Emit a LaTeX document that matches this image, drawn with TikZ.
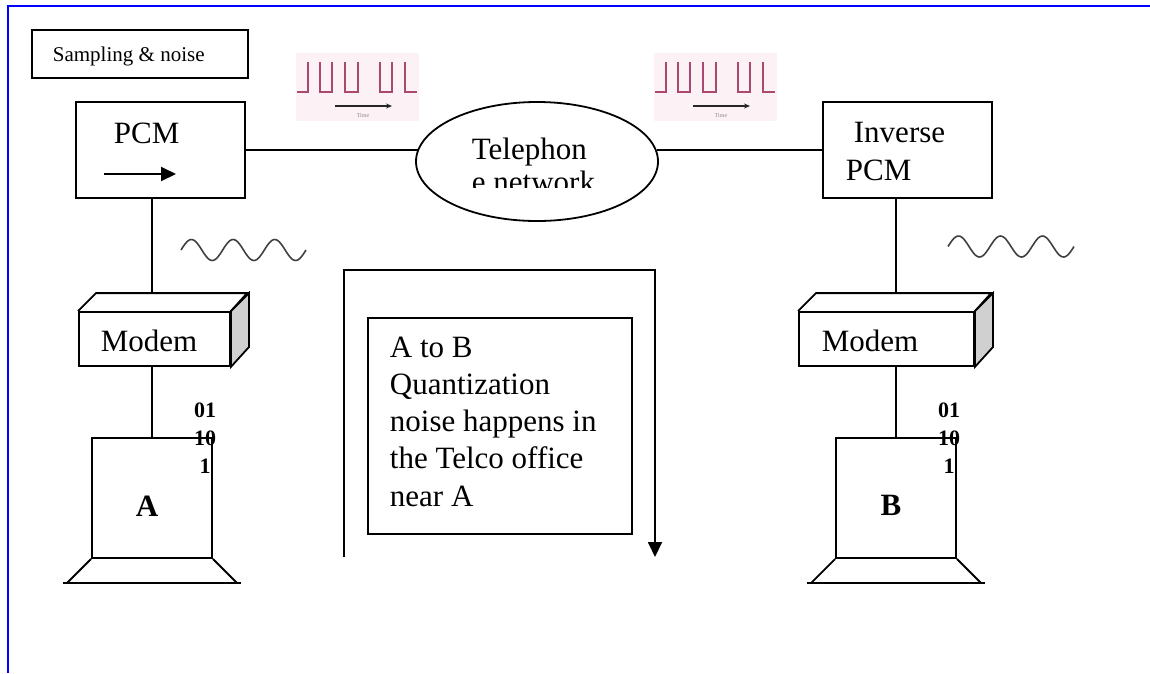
\documentclass[tikz,border=0pt]{standalone}
\usepackage{fontspec}
\setmainfont{Liberation Serif}
\usetikzlibrary{arrows.meta,shapes.geometric}

\definecolor{pulse}{RGB}{170,72,112}
\definecolor{pulsebg}{RGB}{252,241,245}
\definecolor{side}{RGB}{208,208,208}
\definecolor{frame}{RGB}{0,0,255}

\newcommand{\bigtxt}{\fontsize{31}{37.25}\selectfont}
\newcommand{\bitfont}{\fontsize{22}{28}\selectfont\bfseries}

% square pulses with a small time arrow
\newcommand{\pulsetrain}{%
\fill[pulsebg](296,53)rectangle(419,121);
\draw[pulse,line width=1.4pt](297,92)--(308,92)--(308,62)
 (320,62)--(320,92)--(332,92)--(332,62)
 (345,62)--(345,92)--(358,92)--(358,62)
 (380,62)--(380,92)--(392,92)--(392,62)
 (405,62)--(405,92)--(417,92);
\draw[-{Stealth[length=6pt,width=5pt]},line width=1.4pt,black!85](335,106)--(392,106);
\node[font=\fontsize{6}{7}\selectfont,text=black!45] at (363,116){Time};}

\begin{document}
\begin{tikzpicture}[x=1pt,y=-1pt,line width=1.8pt,
  box/.style={draw,rectangle,inner sep=0pt},
  txt/.style={inner sep=0pt,anchor=base west,font=\bigtxt},
  bits/.style={inner sep=0pt,anchor=base,align=center,font=\bitfont},
  wave/.style={line width=1.6pt,color=black!75,smooth},
  tip/.style={-{Triangle[length=15pt,width=14pt]}}]
\useasboundingbox(0,0)rectangle(1150,673);
\draw[frame,line width=2.5pt](8,673)--(8,6)--(1150,6);

\node[box,minimum width=216,minimum height=48](title) at (140,54){};
\node[inner sep=0pt,anchor=base west,font=\fontsize{21}{25}\selectfont](titletxt) at (52,61){Sampling \& noise};

% PCM boxes and the network
\node[box,minimum width=169,minimum height=96](pcm) at (160.5,150){};
\node[txt](pcmtxt) at (113,143){PCM};
\draw[tip,line width=2pt](104,174)--(176,174);
\node[box,minimum width=169,minimum height=96](inv) at (907.5,150){};
\node[txt](invtxt) at (853,142){Inverse};
\node[txt](invtxt2) at (845,180){PCM};
\node[draw,ellipse,inner sep=0pt,minimum width=242,minimum height=119](tel) at (537,161.5){};
\begin{scope}
\clip(400,100)rectangle(680,187);
\node[txt](teltxt) at (471,159){Telephon};
\node[txt](teltxt2) at (471,192){e network};
\end{scope}
\draw(pcm.east)--(pcm.east -| tel.174.5);
\draw(inv.west -| tel.5.5)--(inv.west);

\pulsetrain
\begin{scope}[xshift=358]
\pulsetrain
\end{scope}

\draw[wave,domain=0:125,samples=90,variable=\t]plot({181+\t},{250-10.5*sin(8.64*\t)});
\draw[wave,domain=0:126,samples=90,variable=\t]plot({948+\t},{246.5-10.5*sin(8.571*\t)});

% modems
\node[box,minimum width=151,minimum height=54](modemA) at (154.5,339){};
\draw(modemA.north west)--++(18,-18)--++(151,0)--(modemA.north east);
\draw[fill=side](modemA.north east)--++(18,-18)--++(0,54)--(modemA.south east)--cycle;
\node[txt](modemAtxt) at (100,351){Modem};
\node[box,minimum width=175,minimum height=54](modemB) at (886.5,339){};
\draw(modemB.north west)--++(18,-18)--++(175,0)--(modemB.north east);
\draw[fill=side](modemB.north east)--++(18,-18)--++(0,54)--(modemB.south east)--cycle;
\node[txt](modemBtxt) at (821,351){Modem};

% computers
\node[box,minimum width=120,minimum height=120](compA) at (152,498){};
\draw(compA.south west)--++(-24,24)(compA.south east)--++(24,24);
\draw(compA.south west)++(-28,24)--++(178,0);
\node[inner sep=0pt,anchor=base,font=\bigtxt\bfseries](labA) at (147,516){A};
\node[bits](bitsA) at (205,473){01\\10\\1};
\node[box,minimum width=120,minimum height=120](compB) at (896,498){};
\draw(compB.south west)--++(-24,24)(compB.south east)--++(24,24);
\draw(compB.south west)++(-28,24)--++(178,0);
\node[inner sep=0pt,anchor=base,font=\bigtxt\bfseries](labB) at (891,515){B};
\node[bits](bitsB) at (949,473){01\\10\\1};

\draw(pcm.south -| compA.north)--(152,294);
\draw(modemA.south -| compA.north)--(compA.north);
\draw(inv.south -| compB.north)--(896,294);
\draw(modemB.south -| compB.north)--(compB.north);

% path from A over to B
\coordinate(loopstart) at (344,557);
\coordinate(loopend) at (655,557);
\draw[tip](loopstart)--(344,270)--(655,270)--(loopend);
\node[box,minimum width=264,minimum height=216](note) at (500,426){};
\node[txt,align=left](notetxt) at (389,506){A to B\\Quantization\\noise happens in\\the Telco office\\near A};
\end{tikzpicture}
\end{document}
